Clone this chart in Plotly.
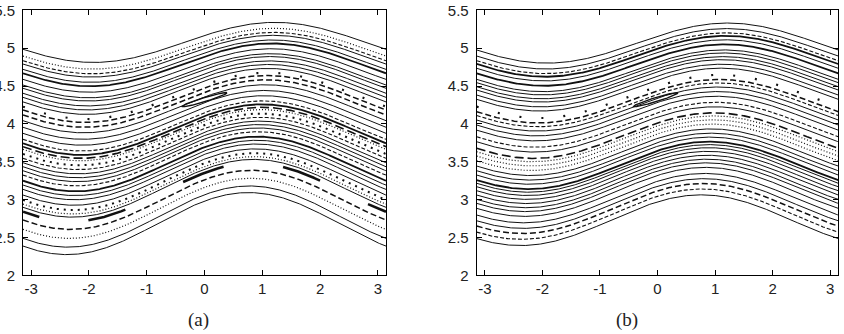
import numpy as np
import plotly.graph_objects as go

# ---------------- data ----------------
x_tick_vals = [-3, -2, -1, 0, 1, 2, 3]
x_tick_text = ["-3", "-2", "-1", "0", "1", "2", "3"]
y_tick_vals = [2, 2.5, 3, 3.5, 4, 4.5, 5, 5.5]
y_tick_text = ["2", "2.5", "3", "3.5", "4", "4.5", "5", "5.5"]

# Panel (a): value of each invariant curve at x = -pi (top to bottom) and its drawing style
left_a = [4.985, 4.896, 4.834, 4.79, 4.72, 4.668, 4.588, 4.513, 4.47, 4.404,
          4.35, 4.29, 4.227, 4.183, 4.117, 4.042, 3.955, 3.875, 3.796, 3.743,
          3.698, 3.664, 3.602, 3.545, 3.487, 3.434, 3.381, 3.324, 3.249, 3.192,
          3.135, 3.06, 2.994, 2.941, 2.898, 2.73, 2.607, 2.488, 2.386]
style_a = ["s", "d", "e", "s", "s", "S", "s", "s", "s", "s",
           "s", "s", "k", "E", "E", "s", "s", "s", "e", "S",
           "L", "d", "D", "e", "s", "s", "s", "e", "S", "s",
           "s", "s", "D", "d", "s", "E", "d", "s", "s"]

# Panel (b)
left_b = [4.976, 4.896, 4.834, 4.791, 4.734, 4.668, 4.588, 4.544, 4.491, 4.447,
          4.381, 4.324, 4.227, 4.161, 4.11, 4.051, 3.985, 3.917, 3.83, 3.764,
          3.677, 3.632, 3.575, 3.513, 3.443, 3.381, 3.324, 3.258, 3.215, 3.17,
          3.117, 3.06, 3.003, 2.95, 2.884, 2.796, 2.72, 2.65, 2.57, 2.485]
style_b = ["s", "s", "e", "S", "s", "S", "s", "s", "s", "s",
           "s", "s", "k", "E", "e", "s", "s", "s", "e", "s",
           "L", "d", "d", "d", "s", "s", "s", "S", "s", "s",
           "s", "s", "s", "s", "s", "s", "s", "E", "e", "s"]

# curve shape: level at -pi -> amplitude, crest position
shape_lvl_a = [2.386, 4.985]
shape_amp_a = [0.41, 0.265]
shape_crest_a = [0.76, 1.22]
shape_lvl_b = [2.485, 4.976]
shape_amp_b = [0.335, 0.265]
shape_crest_b = [0.76, 1.22]

# island chain of panel (a): level at -pi and x-extent of each thick segment
chain_left_a = 2.84
chain_x0_a = [-3.1416, -2.01, -0.37, 1.36, 2.83]
chain_x1_a = [-2.86, -1.37, 0.33, 2.0, 3.1416]

# central island (x-centre, y-centre, half-length, slope, half-thickness)
island_a = [0.0, 4.32, 0.39, 0.23, 0.028]
island_b = [-0.03, 4.32, 0.385, 0.23, 0.028]

# ---------------- drawing ----------------
STY = {
    "s": dict(width=1.0, dash="solid"),
    "S": dict(width=1.8, dash="solid"),
    "d": dict(width=1.2, dash="1px,2px"),
    "D": dict(width=2.0, dash="2px,5px"),
    "k": dict(width=2.2, dash="2px,20px"),
    "e": dict(width=1.1, dash="4px,2px"),
    "E": dict(width=1.5, dash="6px,3px"),
    "L": dict(width=1.6, dash="9px,4px"),
}
INK = "#111111"

xs = np.linspace(-np.pi, np.pi, 500)


def curve(L, x, lv, amp, crest):
    a = np.interp(L, lv, amp)
    ph = np.interp(L, lv, crest)
    c = L + a * np.cos(ph)
    return c + a * np.cos(x - ph)


fig = go.Figure()


def add_panel(xa, ya, lefts, styles, lv, amp, crest, island):
    for L, s in zip(lefts, styles):
        st = STY[s]
        fig.add_trace(go.Scatter(x=xs, y=curve(L, xs, lv, amp, crest), mode="lines",
                                 line=dict(color=INK, width=st["width"], dash=st["dash"]),
                                 xaxis=xa, yaxis=ya, hoverinfo="skip", showlegend=False))
    x0, y0, hl, sl, ht = island
    t = np.linspace(0, 2 * np.pi, 200)
    ix = x0 + hl * np.cos(t)
    iy = y0 + sl * (ix - x0) + ht * np.sin(t)
    fig.add_trace(go.Scatter(x=ix, y=iy, mode="lines", line=dict(color=INK, width=1.4),
                             xaxis=xa, yaxis=ya, hoverinfo="skip", showlegend=False))


add_panel("x", "y", left_a, style_a, shape_lvl_a, shape_amp_a, shape_crest_a, island_a)
add_panel("x2", "y2", left_b, style_b, shape_lvl_b, shape_amp_b, shape_crest_b, island_b)

for a0, a1 in zip(chain_x0_a, chain_x1_a):
    sx = np.linspace(a0, a1, 60)
    fig.add_trace(go.Scatter(x=sx, y=curve(chain_left_a, sx, shape_lvl_a, shape_amp_a, shape_crest_a),
                             mode="lines", line=dict(color=INK, width=2.6),
                             xaxis="x", yaxis="y", hoverinfo="skip", showlegend=False))

W, H = 844, 334
ydom = [(H - 275.3) / H, (H - 10.3) / H]
tickfont = dict(family="Liberation Sans, Arial, sans-serif", size=15, color="#222222")

xcommon = dict(range=[-np.pi, np.pi], tickmode="array", tickvals=x_tick_vals, ticktext=x_tick_text,
               ticks="inside", ticklen=5, tickcolor="black", showline=True, linecolor="black",
               linewidth=1, mirror="ticks", showgrid=False, zeroline=False,
               tickfont=tickfont, automargin=False, ticklabelstandoff=0)
ycommon = dict(range=[2, 5.5], tickmode="array", tickvals=y_tick_vals, ticktext=y_tick_text,
               ticks="inside", ticklen=5, tickcolor="black", showline=True, linecolor="black",
               linewidth=1, mirror="ticks", showgrid=False, zeroline=False,
               tickfont=tickfont, automargin=False, ticklabelstandoff=4)

fig.update_layout(
    width=W, height=H, margin=dict(l=0, r=0, t=0, b=0),
    paper_bgcolor="white", plot_bgcolor="white", template="none",
    showlegend=False,
    xaxis=dict(domain=[23 / W, 386 / W], anchor="y", **xcommon),
    yaxis=dict(domain=ydom, anchor="x", **ycommon),
    xaxis2=dict(domain=[476.7 / W, 838.3 / W], anchor="y2", **xcommon),
    yaxis2=dict(domain=ydom, anchor="x2", **ycommon),
    annotations=[
        dict(text="(a)", x=198 / W, y=(H - 320) / H, xref="paper", yref="paper",
             xanchor="center", yanchor="middle",
             showarrow=False, font=dict(family="Liberation Serif, serif", size=19, color="#222")),
        dict(text="(b)", x=627 / W, y=(H - 320) / H, xref="paper", yref="paper",
             xanchor="center", yanchor="middle",
             showarrow=False, font=dict(family="Liberation Serif, serif", size=19, color="#222")),
    ],
)

fig.write_html("out.html")
